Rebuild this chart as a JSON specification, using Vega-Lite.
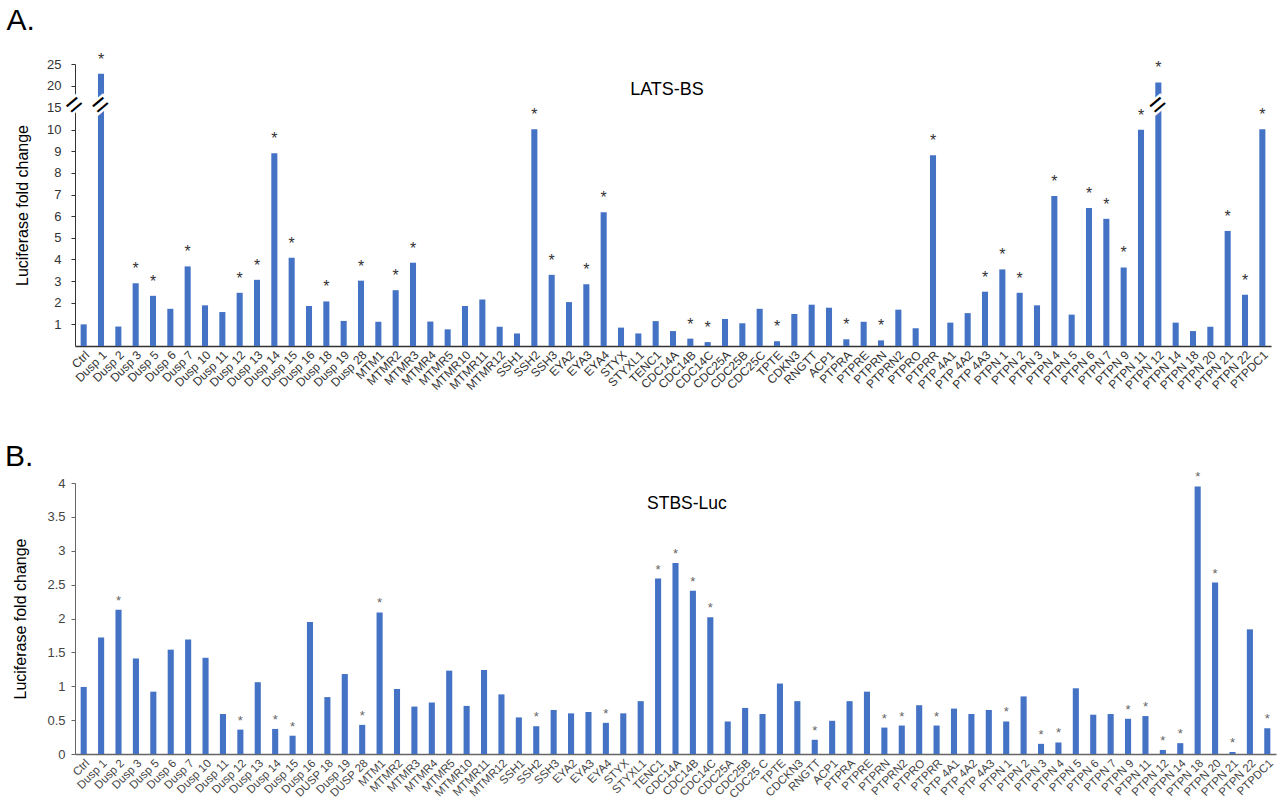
{
  "$schema": "https://vega.github.io/schema/vega-lite/v6.json",
  "background": "white",
  "padding": {"left": 4, "top": 5, "right": 5, "bottom": 5},
  "spacing": 50,
  "config": {
    "view": {"stroke": null},
    "font": "Liberation Sans",
    "axis": {"grid": false, "labelFont": "Liberation Sans", "titleFont": "Liberation Sans"},
    "title": {"font": "Liberation Sans", "fontWeight": "normal", "color": "black"}
  },
  "datasets": {
    "A": [
      {"g": "Ctrl", "v": 1.0, "s": 0, "b": 0},
      {"g": "Dusp 1", "v": 22.8, "s": 1, "b": 1},
      {"g": "Dusp 2", "v": 0.9, "s": 0, "b": 0},
      {"g": "Dusp 3", "v": 2.9, "s": 1, "b": 0},
      {"g": "Dusp 5", "v": 2.32, "s": 1, "b": 0},
      {"g": "Dusp 6", "v": 1.72, "s": 0, "b": 0},
      {"g": "Dusp 7", "v": 3.68, "s": 1, "b": 0},
      {"g": "Dusp 10", "v": 1.88, "s": 0, "b": 0},
      {"g": "Dusp 11", "v": 1.57, "s": 0, "b": 0},
      {"g": "Dusp 12", "v": 2.46, "s": 1, "b": 0},
      {"g": "Dusp 13", "v": 3.06, "s": 1, "b": 0},
      {"g": "Dusp 14", "v": 8.91, "s": 1, "b": 0},
      {"g": "Dusp 15", "v": 4.08, "s": 1, "b": 0},
      {"g": "Dusp 16", "v": 1.85, "s": 0, "b": 0},
      {"g": "Dusp 18", "v": 2.06, "s": 1, "b": 0},
      {"g": "Dusp 19", "v": 1.16, "s": 0, "b": 0},
      {"g": "Dusp 28", "v": 3.02, "s": 1, "b": 0},
      {"g": "MTM1", "v": 1.12, "s": 0, "b": 0},
      {"g": "MTMR2", "v": 2.58, "s": 1, "b": 0},
      {"g": "MTMR3", "v": 3.85, "s": 1, "b": 0},
      {"g": "MTMR4", "v": 1.13, "s": 0, "b": 0},
      {"g": "MTMR5", "v": 0.77, "s": 0, "b": 0},
      {"g": "MTMR10", "v": 1.85, "s": 0, "b": 0},
      {"g": "MTMR11", "v": 2.15, "s": 0, "b": 0},
      {"g": "MTMR12", "v": 0.89, "s": 0, "b": 0},
      {"g": "SSH1", "v": 0.58, "s": 0, "b": 0},
      {"g": "SSH2", "v": 10.12, "s": 1, "b": 0},
      {"g": "SSH3", "v": 3.29, "s": 1, "b": 0},
      {"g": "EYA2", "v": 2.03, "s": 0, "b": 0},
      {"g": "EYA3", "v": 2.85, "s": 1, "b": 0},
      {"g": "EYA4", "v": 6.18, "s": 1, "b": 0},
      {"g": "STYX", "v": 0.85, "s": 0, "b": 0},
      {"g": "STYXL1", "v": 0.58, "s": 0, "b": 0},
      {"g": "TENC1", "v": 1.15, "s": 0, "b": 0},
      {"g": "CDC14A", "v": 0.69, "s": 0, "b": 0},
      {"g": "CDC14B", "v": 0.34, "s": 1, "b": 0},
      {"g": "CDC14C", "v": 0.18, "s": 1, "b": 0},
      {"g": "CDC25A", "v": 1.25, "s": 0, "b": 0},
      {"g": "CDC25B", "v": 1.05, "s": 0, "b": 0},
      {"g": "CDC25C", "v": 1.72, "s": 0, "b": 0},
      {"g": "TPTE", "v": 0.22, "s": 1, "b": 0},
      {"g": "CDKN3", "v": 1.48, "s": 0, "b": 0},
      {"g": "RNGTT", "v": 1.91, "s": 0, "b": 0},
      {"g": "ACP1", "v": 1.77, "s": 0, "b": 0},
      {"g": "PTPRA", "v": 0.31, "s": 1, "b": 0},
      {"g": "PTPRE", "v": 1.12, "s": 0, "b": 0},
      {"g": "PTPRN", "v": 0.26, "s": 1, "b": 0},
      {"g": "PTPRN2", "v": 1.68, "s": 0, "b": 0},
      {"g": "PTPRO", "v": 0.82, "s": 0, "b": 0},
      {"g": "PTPRR", "v": 8.82, "s": 1, "b": 0},
      {"g": "PTP 4A1", "v": 1.08, "s": 0, "b": 0},
      {"g": "PTP 4A2", "v": 1.52, "s": 0, "b": 0},
      {"g": "PTP 4A3", "v": 2.51, "s": 1, "b": 0},
      {"g": "PTPN 1", "v": 3.54, "s": 1, "b": 0},
      {"g": "PTPN 2", "v": 2.46, "s": 1, "b": 0},
      {"g": "PTPN 3", "v": 1.88, "s": 0, "b": 0},
      {"g": "PTPN 4", "v": 6.94, "s": 1, "b": 0},
      {"g": "PTPN 5", "v": 1.45, "s": 0, "b": 0},
      {"g": "PTPN 6", "v": 6.38, "s": 1, "b": 0},
      {"g": "PTPN 7", "v": 5.88, "s": 1, "b": 0},
      {"g": "PTPN 9", "v": 3.63, "s": 1, "b": 0},
      {"g": "PTPN 11", "v": 10.0, "s": 1, "b": 0},
      {"g": "PTPN 12", "v": 20.8, "s": 1, "b": 1},
      {"g": "PTPN 14", "v": 1.08, "s": 0, "b": 0},
      {"g": "PTPN 18", "v": 0.69, "s": 0, "b": 0},
      {"g": "PTPN 20", "v": 0.89, "s": 0, "b": 0},
      {"g": "PTPN 21", "v": 5.32, "s": 1, "b": 0},
      {"g": "PTPN 22", "v": 2.37, "s": 1, "b": 0},
      {"g": "PTPDC1", "v": 10.11, "s": 1, "b": 0}
    ],
    "B": [
      {"g": "Ctrl", "v": 0.99, "s": 0},
      {"g": "Dusp 1", "v": 1.72, "s": 0},
      {"g": "Dusp 2", "v": 2.13, "s": 1},
      {"g": "Dusp 3", "v": 1.41, "s": 0},
      {"g": "Dusp 5", "v": 0.92, "s": 0},
      {"g": "Dusp 6", "v": 1.54, "s": 0},
      {"g": "Dusp 7", "v": 1.69, "s": 0},
      {"g": "Dusp 10", "v": 1.42, "s": 0},
      {"g": "Dusp 11", "v": 0.59, "s": 0},
      {"g": "Dusp 12", "v": 0.36, "s": 1},
      {"g": "Dusp 13", "v": 1.06, "s": 0},
      {"g": "Dusp 14", "v": 0.37, "s": 1},
      {"g": "Dusp 15", "v": 0.27, "s": 1},
      {"g": "Dusp 16", "v": 1.95, "s": 0},
      {"g": "DUSP 18", "v": 0.84, "s": 0},
      {"g": "Dusp 19", "v": 1.18, "s": 0},
      {"g": "DUSP 28", "v": 0.43, "s": 1},
      {"g": "MTM1", "v": 2.09, "s": 1},
      {"g": "MTMR2", "v": 0.96, "s": 0},
      {"g": "MTMR3", "v": 0.7, "s": 0},
      {"g": "MTMR4", "v": 0.76, "s": 0},
      {"g": "MTMR5", "v": 1.23, "s": 0},
      {"g": "MTMR10", "v": 0.71, "s": 0},
      {"g": "MTMR11", "v": 1.24, "s": 0},
      {"g": "MTMR12", "v": 0.88, "s": 0},
      {"g": "SSH1", "v": 0.54, "s": 0},
      {"g": "SSH2", "v": 0.41, "s": 1},
      {"g": "SSH3", "v": 0.65, "s": 0},
      {"g": "EYA2", "v": 0.6, "s": 0},
      {"g": "EYA3", "v": 0.62, "s": 0},
      {"g": "EYA4", "v": 0.46, "s": 1},
      {"g": "STYX", "v": 0.6, "s": 0},
      {"g": "STYXL1", "v": 0.78, "s": 0},
      {"g": "TENC1", "v": 2.59, "s": 1},
      {"g": "CDC14A", "v": 2.82, "s": 1},
      {"g": "CDC14B", "v": 2.41, "s": 1},
      {"g": "CDC14C", "v": 2.02, "s": 1},
      {"g": "CDC25A", "v": 0.48, "s": 0},
      {"g": "CDC25B", "v": 0.68, "s": 0},
      {"g": "CDC25 C", "v": 0.59, "s": 0},
      {"g": "TPTE", "v": 1.04, "s": 0},
      {"g": "CDCKN3", "v": 0.78, "s": 0},
      {"g": "RNGTT", "v": 0.21, "s": 1},
      {"g": "ACP1", "v": 0.49, "s": 0},
      {"g": "PTPRA", "v": 0.78, "s": 0},
      {"g": "PTPRE", "v": 0.92, "s": 0},
      {"g": "PTPRN", "v": 0.39, "s": 1},
      {"g": "PTPRN2", "v": 0.42, "s": 1},
      {"g": "PTPRO", "v": 0.72, "s": 0},
      {"g": "PTPRR", "v": 0.42, "s": 1},
      {"g": "PTP 4A1", "v": 0.67, "s": 0},
      {"g": "PTP 4A2", "v": 0.59, "s": 0},
      {"g": "PTP 4A3", "v": 0.65, "s": 0},
      {"g": "PTPN 1", "v": 0.48, "s": 1},
      {"g": "PTPN 2", "v": 0.85, "s": 0},
      {"g": "PTPN 3", "v": 0.15, "s": 1},
      {"g": "PTPN 4", "v": 0.17, "s": 1},
      {"g": "PTPN 5", "v": 0.97, "s": 0},
      {"g": "PTPN 6", "v": 0.58, "s": 0},
      {"g": "PTPN 7", "v": 0.59, "s": 0},
      {"g": "PTPN 9", "v": 0.52, "s": 1},
      {"g": "PTPN 11", "v": 0.56, "s": 1},
      {"g": "PTPN 12", "v": 0.06, "s": 1},
      {"g": "PTPN 14", "v": 0.16, "s": 1},
      {"g": "PTPN 18", "v": 3.95, "s": 1},
      {"g": "PTPN 20", "v": 2.53, "s": 1},
      {"g": "PTPN 21", "v": 0.03, "s": 1},
      {"g": "PTPN 22", "v": 1.84, "s": 0},
      {"g": "PTPDC1", "v": 0.38, "s": 1}
    ]
  },
  "vconcat": [
    {
      "data": {"name": "A"},
      "width": 1196,
      "height": 282,
      "title": {"text": "A.", "anchor": "start", "frame": "bounds", "fontSize": 30, "dx": -8, "offset": 16},
      "encoding": {
        "x": {"field": "g", "type": "nominal", "sort": null,
          "scale": {"paddingInner": 0, "paddingOuter": 0},
          "axis": {"title": null, "ticks": false, "labelAngle": -45, "labelFontSize": 12, "labelColor": "#333", "domainColor": "#333", "domainWidth": 1.5, "labelPadding": 3}},
        "y": {"field": "v", "type": "quantitative",
          "scale": {"domain": [0, 10, 25], "range": [282, 65.7, 0]},
          "axis": {"title": "Luciferase fold change", "titleFontSize": 16, "titleFontWeight": "normal", "titleColor": "black", "titlePadding": 16,
            "values": [1, 2, 3, 4, 5, 6, 7, 8, 9, 10, 15, 20, 25], "labelFontSize": 13, "labelColor": "#333", "labelPadding": 10, "tickSize": 4, "tickColor": "#333", "domainColor": "#333"}}
      },
      "layer": [
        {"mark": {"type": "bar", "color": "#4472C4", "width": {"band": 0.35}}},
        {"transform": [{"filter": "datum.s == 1"}],
          "mark": {"type": "text", "text": "*", "fontSize": 16, "color": "#333", "baseline": "alphabetic", "dy": -9}},
        {"transform": [{"filter": "datum.b == 1"}],
          "mark": {"type": "text", "text": "=", "fontSize": 28, "color": "white", "stroke": "white", "strokeWidth": 5, "baseline": "middle", "angle": -40},
          "encoding": {"y": {"datum": 15.5}}},
        {"transform": [{"filter": "datum.b == 1"}],
          "mark": {"type": "text", "text": "=", "fontSize": 28, "color": "black", "baseline": "middle", "angle": -40},
          "encoding": {"y": {"datum": 15.5}}},
        {"transform": [{"filter": "datum.g == 'Ctrl'"}],
          "mark": {"type": "text", "text": "=", "fontSize": 28, "color": "white", "stroke": "white", "strokeWidth": 5, "baseline": "middle", "angle": -40, "dx": -6.66, "dy": -5.59},
          "encoding": {"y": {"datum": 15.5}}},
        {"transform": [{"filter": "datum.g == 'Ctrl'"}],
          "mark": {"type": "text", "text": "=", "fontSize": 28, "color": "black", "baseline": "middle", "angle": -40, "dx": -6.66, "dy": -5.59},
          "encoding": {"y": {"datum": 15.5}}},
        {"transform": [{"filter": "datum.g == 'CDC14A'"}],
          "mark": {"type": "text", "text": "LATS-BS", "fontSize": 18, "color": "black", "baseline": "middle", "dx": -6},
          "encoding": {"y": {"datum": 18.95}}}
      ]
    },
    {
      "data": {"name": "B"},
      "width": 1201,
      "height": 271,
      "title": {"text": "B.", "anchor": "start", "frame": "bounds", "fontSize": 30, "dx": -8, "offset": -1},
      "encoding": {
        "x": {"field": "g", "type": "nominal", "sort": null,
          "scale": {"paddingInner": 0, "paddingOuter": 0},
          "axis": {"title": null, "ticks": false, "labelAngle": -45, "labelFontSize": 11.5, "labelColor": "#444", "domainColor": "#666", "domainWidth": 1.5, "labelPadding": 3}},
        "y": {"field": "v", "type": "quantitative",
          "scale": {"domain": [0, 4]},
          "axis": {"title": "Luciferase fold change", "titleFontSize": 16, "titleFontWeight": "normal", "titleColor": "black", "titlePadding": 18,
            "values": [0, 0.5, 1, 1.5, 2, 2.5, 3, 3.5, 4], "format": "~g", "labelFontSize": 13, "labelColor": "#444", "labelPadding": 6, "tickSize": 4, "tickColor": "#666", "domainColor": "#666"}}
      },
      "layer": [
        {"mark": {"type": "bar", "color": "#4472C4", "width": {"band": 0.35}}},
        {"transform": [{"filter": "datum.s == 1"}],
          "mark": {"type": "text", "text": "*", "fontSize": 13, "color": "#666", "baseline": "alphabetic", "dy": -5}},
        {"transform": [{"filter": "datum.g == 'CDC14B'"}],
          "mark": {"type": "text", "text": "STBS-Luc", "fontSize": 17.5, "color": "black", "baseline": "middle", "dx": -6},
          "encoding": {"y": {"datum": 3.69}}}
      ]
    }
  ]
}
